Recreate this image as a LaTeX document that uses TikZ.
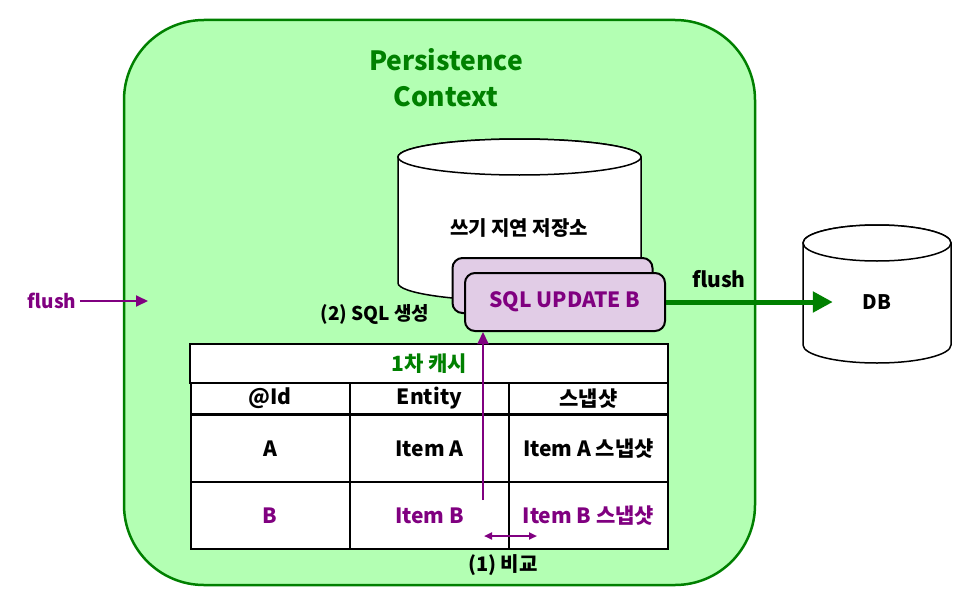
\documentclass[tikz,border=0pt]{standalone}
\usepackage{fontspec}
\setmainfont{Noto Sans CJK KR}
\usetikzlibrary{arrows,arrows.meta,positioning}

\definecolor{ctxfill}{HTML}{B3FFB3}
\definecolor{ctxline}{HTML}{008000}
\definecolor{itempurple}{HTML}{800080}
\definecolor{sqlfill}{HTML}{E1CCE6}

\tikzset{
	ctxbox/.style={draw=ctxline, fill=ctxfill, line width=2.5pt, rounded corners=80pt},
	ctxtitle/.style={text=ctxline, font=\fontsize{26.5}{30}\selectfont\bfseries},
	drum/.style={draw, fill=white, line width=1.5pt},
	txt/.style={font=\fontsize{20}{24}\selectfont\bfseries},
	small/.style={font=\fontsize{19}{22}\selectfont\bfseries},
	cell/.style={draw, line width=2pt, fill=white, minimum width=159pt, inner sep=0pt, font=\fontsize{21}{24}\selectfont\bfseries},
	sqlbox/.style={draw, line width=2pt, fill=sqlfill, rounded corners=10pt, minimum width=200pt, font=\fontsize{21}{24}\selectfont\bfseries},
	flusharrow/.style={-{Triangle[length=20pt,width=20pt]}, draw=ctxline, line width=5pt},
	cmparrow/.style={-{Triangle[length=12pt,width=11pt]}, draw=itempurple, line width=2pt}
}

\begin{document}
\begin{tikzpicture}[x=1pt,y=-1pt]
\useasboundingbox (0,0) rectangle (963,599);

% persistence context
\draw[ctxbox] (124,20) rectangle (755,585);
\node[ctxtitle] (ctxtop) at (446,60) {Persistence};
\node[ctxtitle] (ctxbot) at (446,97) {Context};

% store and DB drums
\foreach \xl/\xr/\yt/\yb in {398/641/157/283, 803/951/243/345} {
	\pgfmathsetmacro{\rx}{(\xr-\xl)/2}
	\pgfmathsetmacro{\cx}{(\xr+\xl)/2}
	\draw[drum] (\xl,\yt) -- (\xl,\yb) arc[start angle=180, end angle=0, x radius=\rx, y radius=18]
		-- (\xr,\yt) arc[start angle=0, end angle=-180, x radius=\rx, y radius=18] -- cycle;
	\draw[drum] (\cx,\yt) ellipse[x radius=\rx, y radius=18];
}
\node[txt] (store) at (519,228) {쓰기 지연 저장소};
\node[txt, minimum width=88pt] (db) at (877,302) {DB};

% sql buffer
\node[sqlbox, minimum height=55pt] (sqlback) at (552.5,285.5) {};
\node[sqlbox, minimum height=58pt, text=itempurple] (sqlfront) at (565,302) {SQL UPDATE B};
\node[small] (genlbl) at (375,314) {(2) SQL 생성};

\draw[flusharrow] (sqlfront.east) -- (db.west);
\node[txt, font=\fontsize{21}{24}\selectfont\bfseries] (flushout) at (719,279) {flush};

\node[small, text=itempurple] (flushin) at (52,301) {flush};
\coordinate (ctxin) at (148,301);
\draw[cmparrow] (flushin) -- (ctxin);

% first level cache
\node[cell, minimum width=478pt, minimum height=39pt, text=ctxline] (cache) at (429,363.5) {1차 캐시};
\foreach \cx/\head/\ra/\rb [count=\c] in {270/@Id/A/B, 429.5/Entity/Item A/Item B, 588.5/스냅샷/Item A 스냅샷/Item B 스냅샷} {
	\node[cell, minimum height=31pt] (head\c) at (\cx,398.5) {\head};
	\node[cell, minimum height=68pt] (rowa\c) at (\cx,448.5) {\ra};
	\node[cell, minimum height=67pt, text=itempurple] (rowb\c) at (\cx,515.5) {\rb};
}

% compare and generate
\coordinate (cmpbot) at (483,500);
\draw[cmparrow] (cmpbot) -- (cmpbot |- sqlfront.south);
\coordinate (cmpl) at (484,536);
\coordinate (cmpr) at (537,536);
\draw[cmparrow, {Triangle[length=8pt,width=7pt]}-{Triangle[length=8pt,width=7pt]}] (cmpl) -- (cmpr);
\node[txt] (cmplbl) at (503,565) {(1) 비교};

\end{tikzpicture}
\end{document}
